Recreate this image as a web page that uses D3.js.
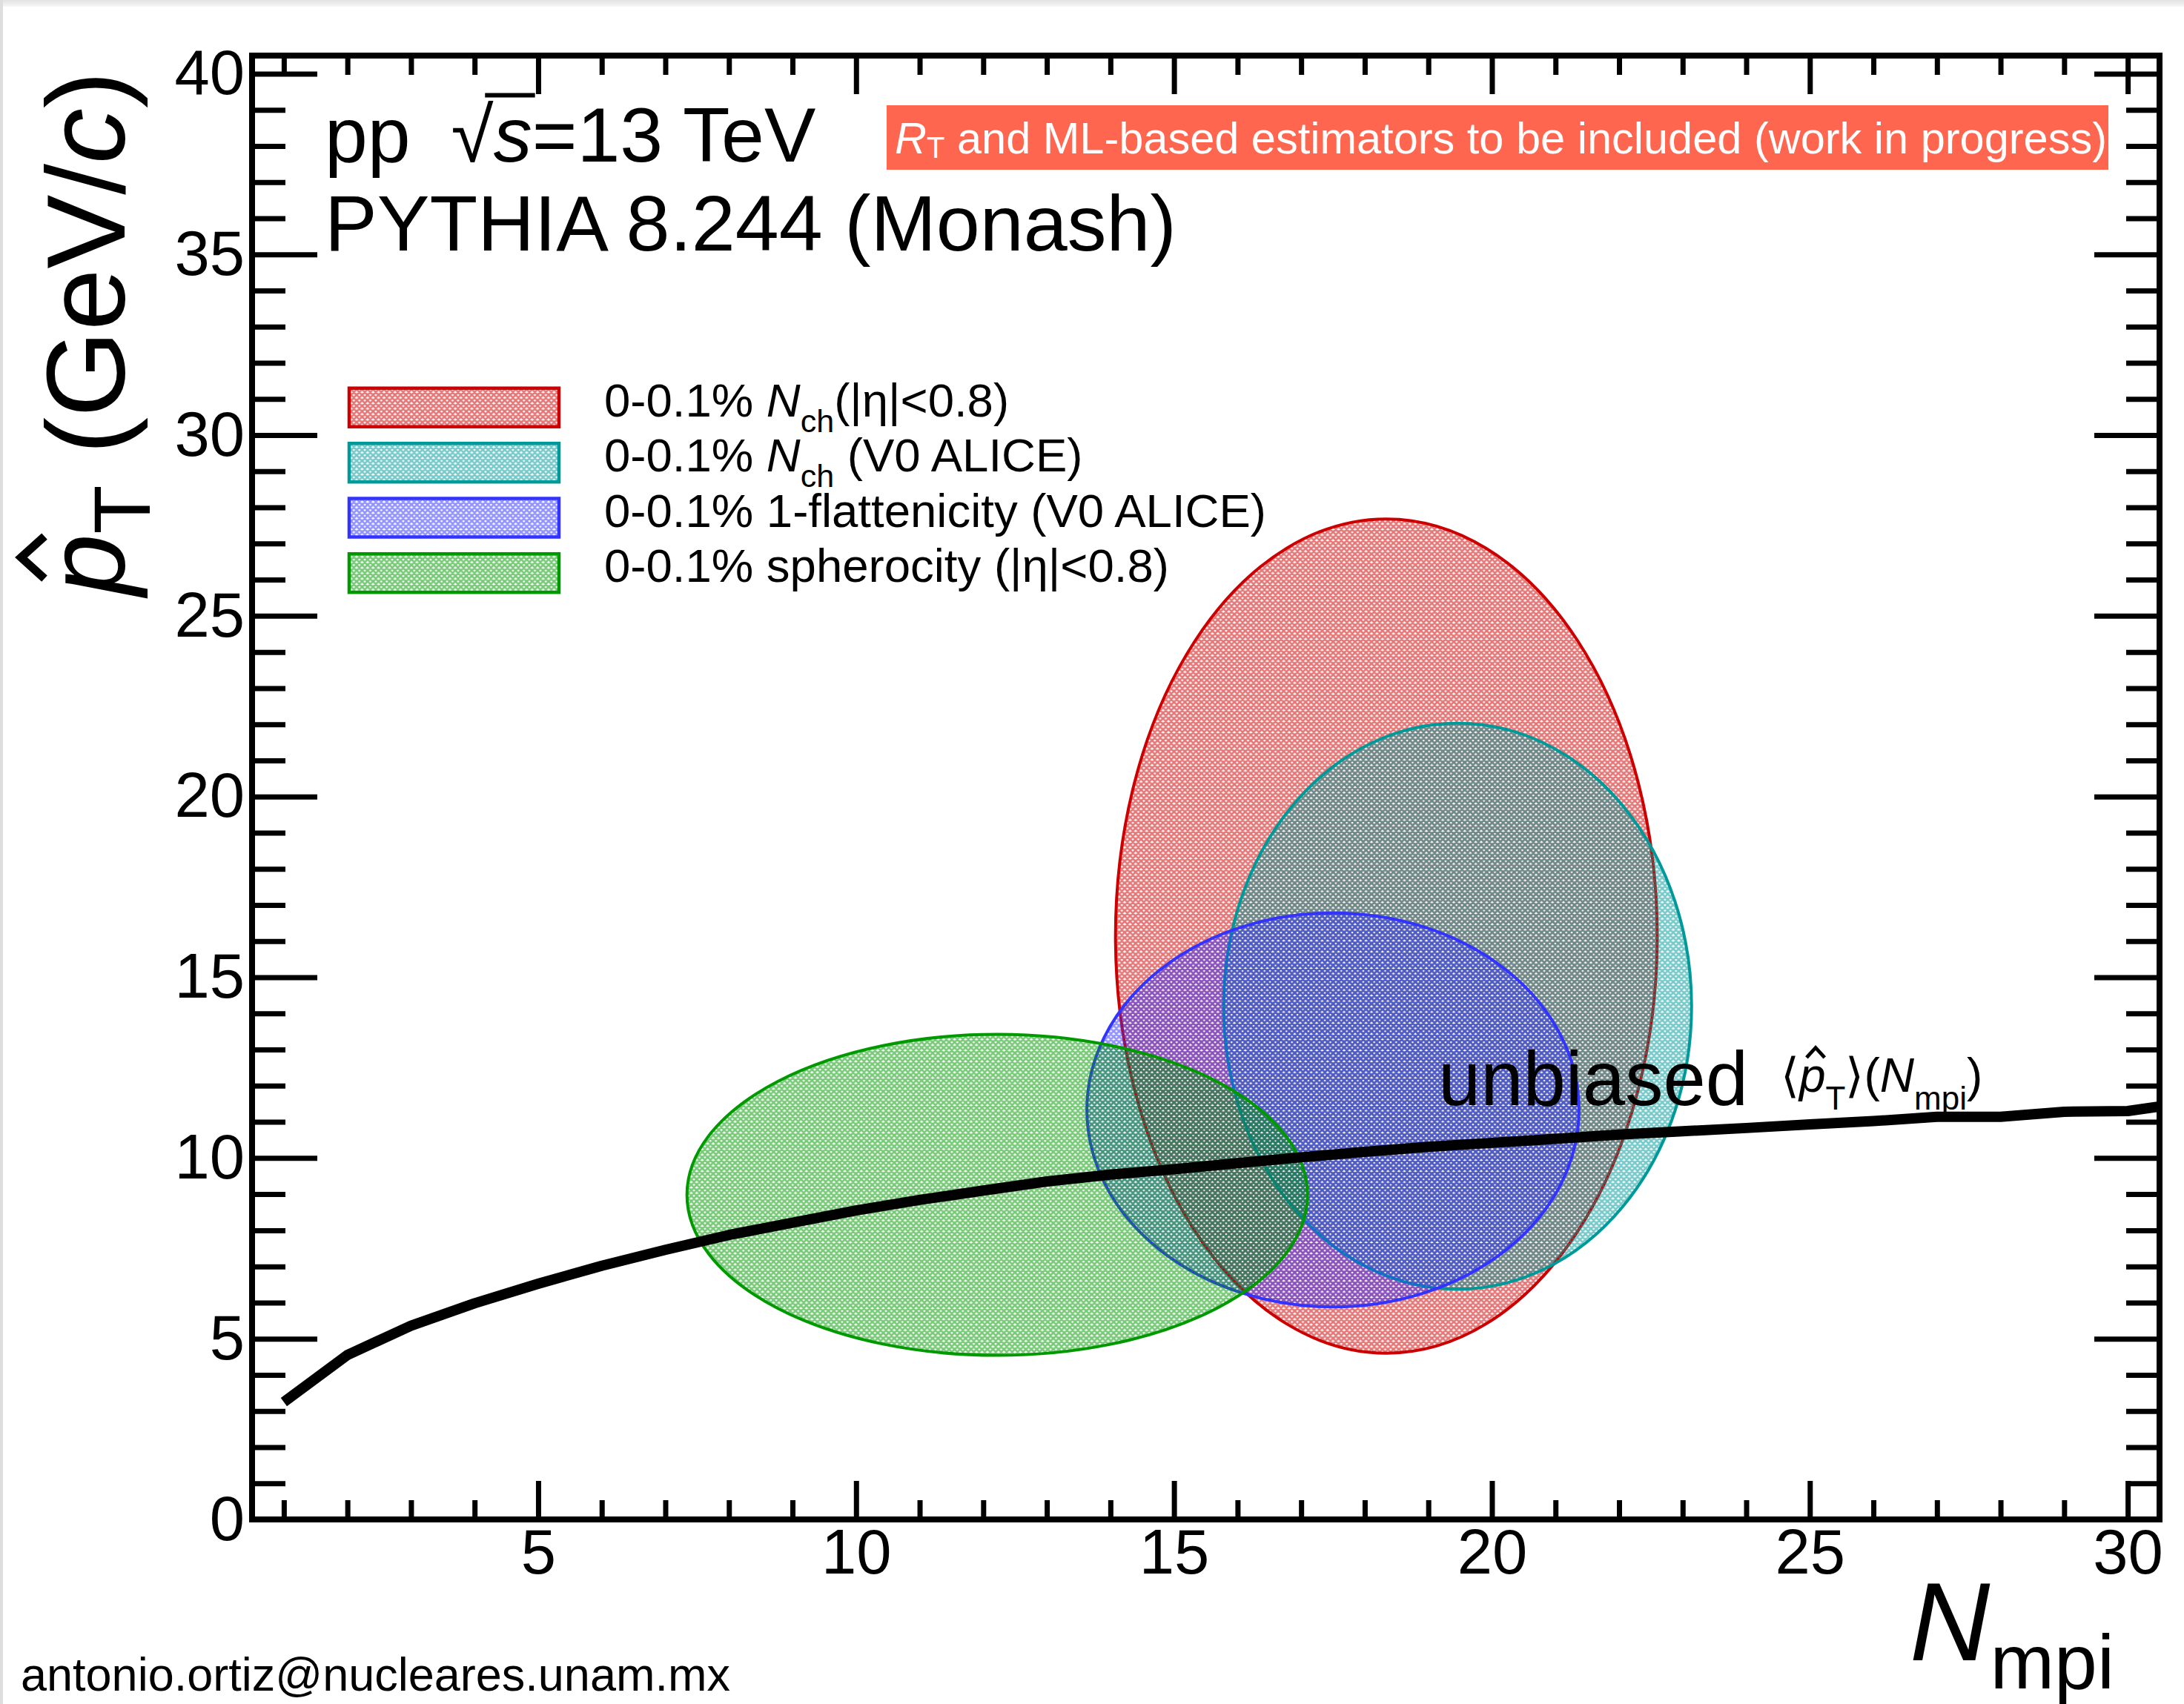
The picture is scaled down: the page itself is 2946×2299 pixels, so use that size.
<!DOCTYPE html>
<html>
<head>
<meta charset="utf-8">
<script src="https://cdn.jsdelivr.net/npm/d3@7"></script>
<style>
  html, body { margin: 0; padding: 0; background: #fff; }
  svg { display: block; font-family: "Liberation Sans", Arial, Helvetica, sans-serif; }
</style>
</head>
<body>
<svg id="chart" width="2946" height="2299"></svg>
<script>
// Unbiased mean hard-scattering pT vs number of multi-parton interactions
const nMpi = [1, 2, 3, 4, 5, 6, 7, 8, 9, 10, 11, 12, 13, 14, 15, 16, 17, 18, 19, 20,
              21, 22, 23, 24, 25, 26, 27, 28, 29, 30, 31];
const meanPtHat = [3.25, 4.55, 5.36, 5.98, 6.52, 7.02, 7.46, 7.87, 8.21, 8.55, 8.84, 9.10,
                   9.35, 9.54, 9.69, 9.86, 10.02, 10.17, 10.31, 10.42, 10.53, 10.65, 10.74,
                   10.83, 10.93, 11.02, 11.14, 11.14, 11.28, 11.30, 11.55];

// Regions populated by the 0-0.1% top classes of each event classifier
const selectionNames = ["nchMid", "nchV0", "flattenicity", "spherocity"];
const regionCenterNmpi = [18.34, 19.46, 17.50, 12.22];
const regionCenterPt   = [16.14, 14.20, 11.33, 8.98];
const regionHalfNmpi   = [4.26, 3.68, 3.87, 4.88];
const regionHalfPt     = [11.54, 7.83, 5.45, 4.44];

// Axis tick values
const xMajorTicks = [5, 10, 15, 20, 25, 30];
const xMinorTicks = d3.range(1, 31).filter(v => v % 5 !== 0);
const yMajorTicks = [0, 5, 10, 15, 20, 25, 30, 35, 40];
const yMinorTicks = d3.range(1, 41).filter(v => v % 5 !== 0);

// Legend entries: rich-text segments (italic / subscript)
const legendLabels = [
  [{t: "0-0.1% "}, {t: "N", it: true}, {t: "ch", sub: true}, {t: "(|η|<0.8)"}],
  [{t: "0-0.1% "}, {t: "N", it: true}, {t: "ch", sub: true}, {t: " (V0 ALICE)"}],
  [{t: "0-0.1% 1-flattenicity (V0 ALICE)"}],
  [{t: "0-0.1% spherocity (|η|<0.8)"}]
];

const strokeColors = ["#cc0000", "#009999", "#3333ff", "#009900"];

const svg = d3.select("#chart");
const W = 2946, H = 2299;
const frame = {left: 340, right: 2913, top: 75, bottom: 2050};

const x = d3.scaleLinear().domain([0.5, 30.5]).range([frame.left, frame.right]);
const y = d3.scaleLinear().domain([0, 40.5]).range([frame.bottom, frame.top]);

// page edge shading
const defs = svg.append("defs");
const edge = defs.append("linearGradient").attr("id", "topEdge")
  .attr("x1", 0).attr("y1", 0).attr("x2", 0).attr("y2", 1);
edge.append("stop").attr("offset", "0%").attr("stop-color", "#e2e2e2");
edge.append("stop").attr("offset", "100%").attr("stop-color", "#f6f6f6");
svg.append("rect").attr("width", W).attr("height", H).attr("fill", "#fff");
svg.append("rect").attr("x", 0).attr("y", 0).attr("width", W).attr("height", 9).attr("fill", "url(#topEdge)");
svg.append("rect").attr("x", 0).attr("y", 0).attr("width", 4).attr("height", H).attr("fill", "#dedede");

// cross-hatch patterns (shared origin so overlapping hatches line up)
const hs = 7.4, hw = 2.7;
strokeColors.forEach((c, i) => {
  const p = defs.append("pattern").attr("id", "hatch" + i)
    .attr("patternUnits", "userSpaceOnUse").attr("width", hs).attr("height", hs);
  const g = p.append("g").attr("opacity", 0.53).attr("stroke", c).attr("stroke-width", hw);
  const d = `M${-hs},0L${hs},${2 * hs}M-1,-1L${hs + 1},${hs + 1}M0,${-hs}L${2 * hs},${hs}` +
            `M${-hs},${hs}L${hs},${-hs}M-1,${hs + 1}L${hs + 1},-1M0,${2 * hs}L${2 * hs},0`;
  g.append("path").attr("d", d).attr("fill", "none");
});

defs.append("clipPath").attr("id", "frameClip").append("rect")
  .attr("x", frame.left).attr("y", frame.top)
  .attr("width", frame.right - frame.left).attr("height", frame.bottom - frame.top);

// selection regions
const plot = svg.append("g");
selectionNames.forEach((name, i) => {
  plot.append("ellipse")
    .attr("class", "region-" + name)
    .attr("cx", x(regionCenterNmpi[i]))
    .attr("cy", y(regionCenterPt[i]))
    .attr("rx", x(regionCenterNmpi[i] + regionHalfNmpi[i]) - x(regionCenterNmpi[i]))
    .attr("ry", y(regionCenterPt[i]) - y(regionCenterPt[i] + regionHalfPt[i]))
    .attr("fill", `url(#hatch${i})`)
    .attr("stroke", strokeColors[i])
    .attr("stroke-width", 4);
});

// unbiased curve
const line = d3.line().x((d, i) => x(nMpi[i])).y(d => y(d));
plot.append("path")
  .datum(meanPtHat)
  .attr("clip-path", "url(#frameClip)")
  .attr("d", line)
  .attr("fill", "none")
  .attr("stroke", "#000")
  .attr("stroke-width", 14)
  .attr("stroke-linejoin", "round");

// axes: ticks point inward on all four sides
const tickW = 7;
function styleAxis(g) {
  g.select(".domain").remove();
  g.selectAll(".tick line").attr("stroke", "#000").attr("stroke-width", tickW);
  g.selectAll(".tick text").attr("font-size", 85).attr("fill", "#000")
    .attr("font-family", "'Liberation Sans', Arial, sans-serif");
}
const axes = svg.append("g");
axes.append("g").attr("transform", `translate(0,${frame.bottom})`)
  .call(d3.axisBottom(x).tickValues(xMajorTicks).tickSizeInner(-52).tickSizeOuter(0).tickPadding(13).tickFormat(d3.format("d")))
  .call(styleAxis);
axes.append("g").attr("transform", `translate(0,${frame.bottom})`)
  .call(d3.axisBottom(x).tickValues(xMinorTicks).tickSizeInner(-26).tickSizeOuter(0).tickFormat(""))
  .call(styleAxis);
axes.append("g").attr("transform", `translate(0,${frame.top})`)
  .call(d3.axisTop(x).tickValues(xMajorTicks).tickSizeInner(-52).tickSizeOuter(0).tickFormat(""))
  .call(styleAxis);
axes.append("g").attr("transform", `translate(0,${frame.top})`)
  .call(d3.axisTop(x).tickValues(xMinorTicks).tickSizeInner(-26).tickSizeOuter(0).tickFormat(""))
  .call(styleAxis);
axes.append("g").attr("transform", `translate(${frame.left},0)`)
  .call(d3.axisLeft(y).tickValues(yMajorTicks).tickSizeInner(-88).tickSizeOuter(0).tickPadding(10).tickFormat(d3.format("d")))
  .call(styleAxis);
axes.append("g").attr("transform", `translate(${frame.left},0)`)
  .call(d3.axisLeft(y).tickValues(yMinorTicks).tickSizeInner(-45).tickSizeOuter(0).tickFormat(""))
  .call(styleAxis);
axes.append("g").attr("transform", `translate(${frame.right},0)`)
  .call(d3.axisRight(y).tickValues(yMajorTicks).tickSizeInner(-88).tickSizeOuter(0).tickFormat(""))
  .call(styleAxis);
axes.append("g").attr("transform", `translate(${frame.right},0)`)
  .call(d3.axisRight(y).tickValues(yMinorTicks).tickSizeInner(-45).tickSizeOuter(0).tickFormat(""))
  .call(styleAxis);

// frame
svg.append("rect")
  .attr("x", frame.left).attr("y", frame.top)
  .attr("width", frame.right - frame.left).attr("height", frame.bottom - frame.top)
  .attr("fill", "none").attr("stroke", "#000").attr("stroke-width", 8);

// rich text helper: segments with italic and subscript parts
function rich(textSel, segs, subSize, subShift) {
  let shifted = 0;
  segs.forEach(s => {
    const ts = textSel.append("tspan").text(s.t);
    const target = s.sub ? subShift : 0;
    if (target !== shifted) ts.attr("dy", target - shifted);
    shifted = target;
    if (s.sub) ts.attr("font-size", subSize);
    if (s.it) ts.attr("font-style", "italic");
    if (s.dx) ts.attr("dx", s.dx);
  });
  return textSel;
}

function hat(g, textNode, charIndex, baselineY, size) {
  const e = textNode.getExtentOfChar(charIndex);
  const cx = e.x + e.width * 0.62;
  const w = size * 0.19, y0 = baselineY - size * 0.72, y1 = baselineY - size * 0.93;
  g.append("path")
    .attr("d", `M${cx - w},${y0}L${cx},${y1}L${cx + w},${y0}`)
    .attr("fill", "none").attr("stroke", "#000")
    .attr("stroke-width", size * 0.075).attr("stroke-linejoin", "miter");
}

// collision system label
const sysText = svg.append("text").attr("x", 438).attr("y", 218).attr("font-size", 104).attr("fill", "#000");
rich(sysText, [{t: "pp "}, {t: "√", dx: 26}, {t: "s", it: true}, {t: "=13 TeV"}], 0, 0);
{
  const n = sysText.node();
  const r = n.getExtentOfChar(3), s = n.getExtentOfChar(4);
  const oy = 218 - 104 * 0.86;
  svg.append("path")
    .attr("d", `M${r.x + r.width * 0.8},${oy}L${s.x + s.width + 4},${oy}`)
    .attr("stroke", "#000").attr("stroke-width", 6);
}
svg.append("text").attr("x", 438).attr("y", 338).attr("font-size", 106).attr("fill", "#000")
  .text("PYTHIA 8.244 (Monash)");

// work-in-progress banner
svg.append("rect").attr("x", 1196).attr("y", 142).attr("width", 1648).attr("height", 87).attr("fill", "#ff6650");
const banner = svg.append("text").attr("x", 1207).attr("y", 207).attr("font-size", 59.5).attr("fill", "#fff");
rich(banner, [{t: "R", it: true}, {t: "T", sub: true}, {t: " and ML-based estimators to be included (work in progress)"}], 40, 6);

// legend
const legend = svg.append("g");
const rowCenters = [549.7, 624.2, 698.5, 773.2];
legendLabels.forEach((segs, i) => {
  legend.append("rect")
    .attr("x", 471).attr("y", rowCenters[i] - 26)
    .attr("width", 283).attr("height", 52)
    .attr("fill", `url(#hatch${i})`)
    .attr("stroke", strokeColors[i]).attr("stroke-width", 4.5);
  const t = legend.append("text").attr("x", 815).attr("y", rowCenters[i] + 12)
    .attr("font-size", 63.5).attr("fill", "#000");
  rich(t, segs, 43, 21);
});

// curve label
svg.append("text").attr("x", 1940).attr("y", 1491).attr("font-size", 103).attr("fill", "#000").text("unbiased");
const curveLbl = svg.append("text").attr("x", 2402).attr("y", 1473).attr("font-size", 64).attr("fill", "#000");
rich(curveLbl, [{t: "⟨"}, {t: "p", it: true}, {t: "T", sub: true}, {t: "⟩("}, {t: "N", it: true}, {t: "mpi", sub: true}, {t: ")"}], 44, 24);
hat(svg, curveLbl.node(), 1, 1473, 64);

// axis titles
const xTitle = svg.append("text").attr("x", 2852).attr("y", 2240).attr("font-size", 150)
  .attr("text-anchor", "end").attr("fill", "#000");
rich(xTitle, [{t: "N", it: true}, {t: "mpi", sub: true}], 104, 38);

const yTitleG = svg.append("g").attr("transform", "translate(168,96) rotate(-90)");
const yTitle = yTitleG.append("text").attr("x", 0).attr("y", 0).attr("font-size", 150)
  .attr("text-anchor", "end").attr("fill", "#000");
rich(yTitle, [{t: "p", it: true}, {t: "T", sub: true}, {t: " (GeV/"}, {t: "c", it: true}, {t: ")"}], 108, 34);
hat(yTitleG, yTitle.node(), 0, 0, 150);

// author contact
svg.append("text").attr("x", 28).attr("y", 2281).attr("font-size", 63).attr("fill", "#000")
  .text("antonio.ortiz@nucleares.unam.mx");
</script>
</body>
</html>
